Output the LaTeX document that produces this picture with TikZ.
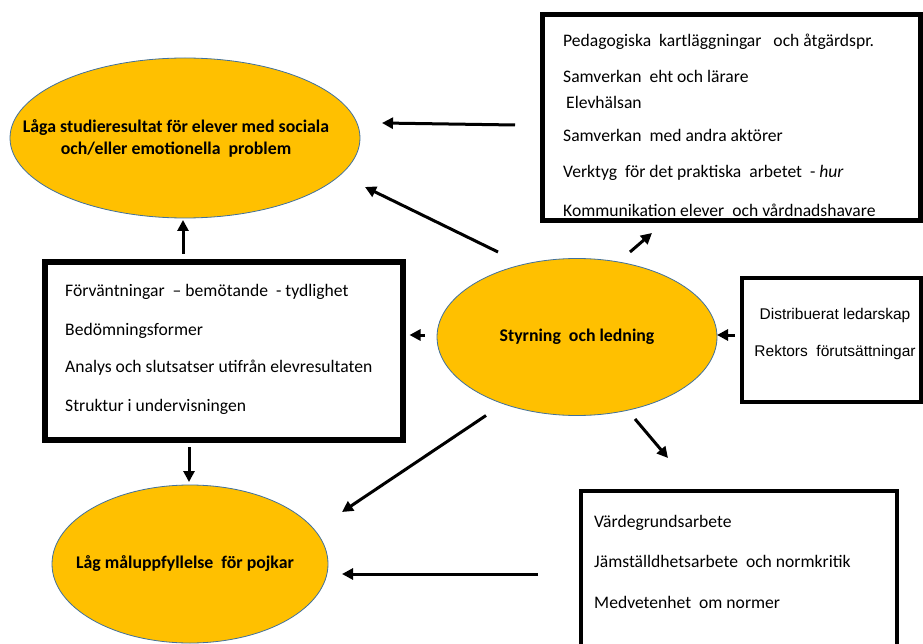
\documentclass[tikz,border=0pt]{standalone}
\usepackage{fontspec}
\setmainfont{Carlito}
\newfontfamily\arialf{Liberation Sans}
\usetikzlibrary{arrows.meta,shapes.geometric}
\definecolor{gold}{HTML}{FFC000}
\definecolor{eborder}{HTML}{41719C}
\newcommand{\zw}[1]{\makebox[0pt][c]{#1}}
\begin{document}
\begin{tikzpicture}[x=1pt,y=-1pt,
  oval/.style={ellipse,draw=eborder,line width=0.8pt,fill=gold,inner sep=0pt,outer sep=0pt,align=center,font=\bfseries\fontsize{17.8}{22}\selectfont},
  frame/.style={draw,rectangle,inner sep=0pt,outer sep=0pt},
  txt/.style={anchor=west,inner sep=0pt,font=\fontsize{17.6}{20}\selectfont},
  atxt/.style={anchor=center,inner sep=0pt,font=\arialf\fontsize{15.5}{17}\selectfont},
  arr/.style={line width=3pt,-{Triangle[length=11pt,width=11pt]}}]
\clip (0,0) rectangle (923,644);
\fill[white] (0,0) rectangle (923,644);
% ovals
\node[oval,minimum width=350pt,minimum height=160pt] (ell1) at (185,138) {\zw{\hspace*{-18pt}Låga studieresultat för elever med sociala}\\\zw{\hspace*{-18pt}och/eller emotionella\ \ problem}};
\node[oval,minimum width=280pt,minimum height=157pt] (sty) at (577,337) {\zw{Styrning\ \ och ledning}};
\node[oval,minimum width=276pt,minimum height=158pt] (ell3) at (190,564) {\zw{\hspace*{-10pt}Låg måluppfyllelse\ \ för pojkar}};
% frames
\node[frame,line width=5pt,minimum width=378pt,minimum height=206pt] (box1) at (731,118) {};
\node[frame,line width=6pt,minimum width=358pt,minimum height=178pt] (box2) at (224,351) {};
\node[frame,line width=4pt,minimum width=179pt,minimum height=124pt] (box3) at (831.5,340) {};
\node[frame,line width=4pt,minimum width=316pt,minimum height=180pt] (box4) at (739,581) {};
% box1 texts
\node[txt] (b1a) at (563,42) {Pedagogiska\ \ kartläggningar\ \ \ och åtgärdspr.};
\node[txt] (b1b) at (563,76) {Samverkan\ \ eht och lärare};
\node[txt] (b1c) at (566,102) {Elevhälsan};
\node[txt] (b1d) at (563,135) {Samverkan\ \ med andra aktörer};
\node[txt] (b1e) at (563,173) {Verktyg\ \ för det praktiska\ \ arbetet\ \ - \textit{hur}};
\node[txt] (b1f) at (563,210) {Kommunikation elever\ \ och vårdnadshavare};
% box2 texts
\node[txt] (b2a) at (65,292) {Förväntningar\ \ – bemötande\ \ - tydlighet};
\node[txt] (b2b) at (65,331) {Bedömningsformer};
\node[txt] (b2c) at (65,368) {Analys och slutsatser utifrån elevresultaten};
\node[txt] (b2d) at (65,407) {Struktur i undervisningen};
% box3 texts
\node[atxt] (b3a) at (835,315) {Distribuerat ledarskap};
\node[atxt] (b3b) at (835,352) {Rektors\ \ förutsättningar};
% box4 texts
\node[txt] (b4a) at (594,523) {Värdegrundsarbete};
\node[txt] (b4b) at (594,561) {Jämställdhetsarbete\ \ och normkritik};
\node[txt] (b4c) at (594,602) {Medvetenhet\ \ om normer};
% arrows
\draw[arr] ([xshift=-27pt,yshift=-7pt]box1.west) -- ([xshift=22pt,yshift=15pt]ell1.east);
\draw[arr] ([xshift=-79pt,yshift=6.5pt]sty.north) -- ([xshift=5pt,yshift=-49pt]ell1.east);
\draw[arr] ([xshift=-41pt,yshift=8pt]box2.north) -- ([xshift=-2pt,yshift=-2pt]ell1.south);
\draw[arr] ([xshift=-12pt,yshift=2pt]sty.west) -- ([xshift=6.5pt,yshift=16pt]box2.east);
\draw[arr] ([xshift=-7pt,yshift=5pt]box3.west) -- ([yshift=2pt]sty.east);
\draw[arr] ([xshift=53pt,yshift=6.5pt]sty.north) -- ([xshift=-79pt,yshift=-12pt]box1.south);
\draw[arr] ([xshift=-91pt]sty.south) -- ([xshift=14pt,yshift=52pt]ell3.east);
\draw[arr] ([xshift=58pt,yshift=-3.5pt]sty.south) -- ([xshift=-71pt,yshift=33pt]box4.north);
\draw[arr] ([xshift=-43pt,yshift=7pt]box4.west) -- ([xshift=14pt,yshift=-10pt]ell3.east);
\draw[arr] ([xshift=-35pt,yshift=-7pt]box2.south) -- ([xshift=-1pt,yshift=3pt]ell3.north);
\end{tikzpicture}
\end{document}
